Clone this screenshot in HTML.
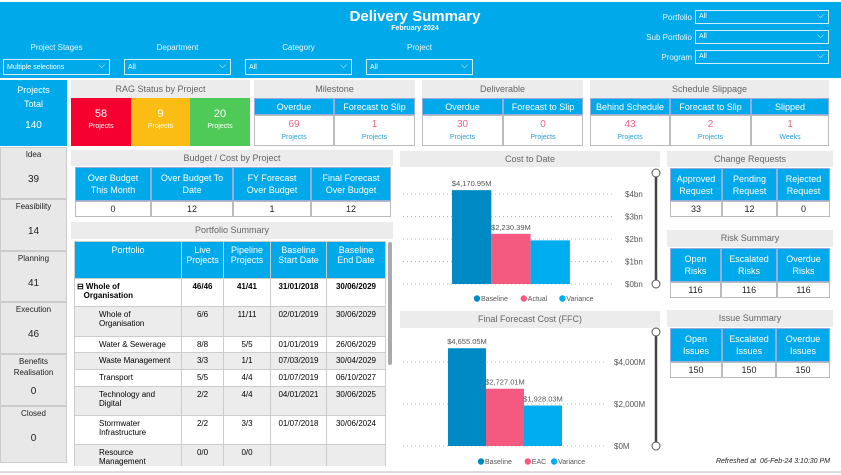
<!DOCTYPE html>
<html><head><meta charset="utf-8">
<style>
*{box-sizing:border-box;margin:0;padding:0}
body{width:841px;height:475px;overflow:hidden;background:#fff;font-family:"Liberation Sans",sans-serif;position:relative}
.a{position:absolute}
.hdr{background:#00a9ea}
.w{color:#fff}
.dd{position:absolute;height:16px;border:1px solid #cfeefb;background:#00a9ea;color:#fff;font-size:7px;line-height:15px;padding-left:3px}
.dd:after{content:"⌵";position:absolute;right:4px;top:-2px;font-size:9px}
.lbl{position:absolute;color:#e8f7fd;font-size:8px;text-align:center}
.gh{position:absolute;background:#ececec;color:#666;font-size:9px;text-align:center}
.bc{position:absolute;background:#00a9ea;color:#fff;font-size:9px;text-align:center;border:1px solid #9ad;display:flex;align-items:center;justify-content:center;line-height:12px}
.wc{position:absolute;background:#fff;color:#222;font-size:10px;text-align:center;border:1px solid #bbb}
.pk{color:#f06488;font-size:10px}
.sub{color:#2a9fd6;font-size:7px}
.st{position:absolute;left:0;width:67px;background:#e8e8e8;border:1px solid #ccc;text-align:center;font-size:8px;color:#222}
table{border-collapse:collapse}
td{border:1px solid #ccc;font-size:8px;vertical-align:top;padding:3px 2px;text-align:center}
</style></head><body>
<div class="a hdr" style="left:0;top:2px;width:841px;height:76px"></div>
<div class="a w" style="left:300px;top:8px;width:230px;text-align:center;font-size:15px;font-weight:bold">Delivery Summary</div>
<div class="a w" style="left:300px;top:25px;width:230px;text-align:center;font-size:7px;font-weight:bold">February 2024</div>
<div class="lbl" style="left:3px;top:43px;width:107px">Project Stages</div>
<div class="lbl" style="left:124px;top:43px;width:107px">Department</div>
<div class="lbl" style="left:245px;top:43px;width:107px">Category</div>
<div class="lbl" style="left:366px;top:43px;width:107px">Project</div>
<div class="dd" style="left:3px;top:59px;width:107px">Multiple selections</div>
<div class="dd" style="left:124px;top:59px;width:107px">All</div>
<div class="dd" style="left:245px;top:59px;width:107px">All</div>
<div class="dd" style="left:366px;top:59px;width:107px">All</div>
<div class="lbl" style="left:630px;top:13px;width:62px;text-align:right">Portfolio</div>
<div class="lbl" style="left:630px;top:33px;width:62px;text-align:right">Sub Portfolio</div>
<div class="lbl" style="left:630px;top:53px;width:62px;text-align:right">Program</div>
<div class="dd" style="left:695px;top:10px;width:134px;height:14px;line-height:12px">All</div>
<div class="dd" style="left:695px;top:30px;width:134px;height:14px;line-height:12px">All</div>
<div class="dd" style="left:695px;top:50px;width:134px;height:14px;line-height:12px">All</div>

<!-- left stages -->
<div class="a w" style="left:0;top:80px;width:67px;height:66px;background:#00a9ea;text-align:center;font-size:9px;line-height:14px;padding-top:3px">Projects<br>Total<br><div style="margin-top:8px;font-size:10px">140</div></div>
<div class="st" style="top:147px;height:52px"><div style="margin-top:2px">Idea</div><div style="margin-top:15px;font-size:10px">39</div></div>
<div class="st" style="top:199px;height:52px"><div style="margin-top:2px">Feasibility</div><div style="margin-top:15px;font-size:10px">14</div></div>
<div class="st" style="top:251px;height:51px"><div style="margin-top:2px">Planning</div><div style="margin-top:15px;font-size:10px">41</div></div>
<div class="st" style="top:302px;height:52px"><div style="margin-top:2px">Execution</div><div style="margin-top:15px;font-size:10px">46</div></div>
<div class="st" style="top:354px;height:52px"><div style="margin-top:1px;line-height:11px">Benefits<br>Realisation</div><div style="margin-top:8px;font-size:10px">0</div></div>
<div class="st" style="top:406px;height:57px"><div style="margin-top:2px">Closed</div><div style="margin-top:15px;font-size:10px">0</div></div>

<!-- RAG -->
<div class="gh" style="left:71px;top:80px;width:179px;height:18px;line-height:18px">RAG Status by Project</div>
<div class="a w" style="left:71px;top:98px;width:60px;height:48px;background:#f5002f;text-align:center;font-size:11px;padding-top:10px">58<div style="font-size:7px;margin-top:3px">Projects</div></div>
<div class="a w" style="left:131px;top:98px;width:59px;height:48px;background:#fbbd13;text-align:center;font-size:11px;padding-top:10px">9<div style="font-size:7px;margin-top:3px">Projects</div></div>
<div class="a w" style="left:190px;top:98px;width:60px;height:48px;background:#4fc957;text-align:center;font-size:11px;padding-top:10px">20<div style="font-size:7px;margin-top:3px">Projects</div></div>

<!-- Milestone / Deliverable / Schedule -->
<div class="gh" style="left:254px;top:80px;width:161px;height:18px;line-height:18px">Milestone</div>
<div class="bc" style="left:254px;top:98px;width:80px;height:17px">Overdue</div>
<div class="bc" style="left:334px;top:98px;width:81px;height:17px">Forecast to Slip</div>
<div class="wc" style="left:254px;top:115px;width:80px;height:31px"><div class="pk" style="margin-top:3px">69</div><div class="sub" style="margin-top:4px">Projects</div></div>
<div class="wc" style="left:334px;top:115px;width:81px;height:31px"><div class="pk" style="margin-top:3px">1</div><div class="sub" style="margin-top:4px">Projects</div></div>

<div class="gh" style="left:422px;top:80px;width:161px;height:18px;line-height:18px">Deliverable</div>
<div class="bc" style="left:422px;top:98px;width:81px;height:17px">Overdue</div>
<div class="bc" style="left:503px;top:98px;width:80px;height:17px">Forecast to Slip</div>
<div class="wc" style="left:422px;top:115px;width:81px;height:31px"><div class="pk" style="margin-top:3px">30</div><div class="sub" style="margin-top:4px">Projects</div></div>
<div class="wc" style="left:503px;top:115px;width:80px;height:31px"><div class="pk" style="margin-top:3px">0</div><div class="sub" style="margin-top:4px">Projects</div></div>

<div class="gh" style="left:590px;top:80px;width:239px;height:18px;line-height:18px">Schedule Slippage</div>
<div class="bc" style="left:590px;top:98px;width:80px;height:17px">Behind Schedule</div>
<div class="bc" style="left:670px;top:98px;width:81px;height:17px">Forecast to Slip</div>
<div class="bc" style="left:751px;top:98px;width:78px;height:17px">Slipped</div>
<div class="wc" style="left:590px;top:115px;width:80px;height:31px"><div class="pk" style="margin-top:3px">43</div><div class="sub" style="margin-top:4px">Projects</div></div>
<div class="wc" style="left:670px;top:115px;width:81px;height:31px"><div class="pk" style="margin-top:3px">2</div><div class="sub" style="margin-top:4px">Projects</div></div>
<div class="wc" style="left:751px;top:115px;width:78px;height:31px"><div class="pk" style="margin-top:3px">1</div><div class="sub" style="margin-top:4px">Weeks</div></div>

<!-- Budget -->
<div class="gh" style="left:71px;top:150px;width:322px;height:16px;line-height:16px">Budget / Cost by Project</div>
<div class="bc" style="left:75px;top:167px;width:76px;height:34px">Over Budget<br>This Month</div>
<div class="bc" style="left:151px;top:167px;width:82px;height:34px">Over Budget To<br>Date</div>
<div class="bc" style="left:233px;top:167px;width:78px;height:34px">FY Forecast<br>Over Budget</div>
<div class="bc" style="left:311px;top:167px;width:80px;height:34px">Final Forecast<br>Over Budget</div>
<div class="wc" style="left:75px;top:201px;width:76px;height:16px;font-size:9px;line-height:14px">0</div>
<div class="wc" style="left:151px;top:201px;width:82px;height:16px;font-size:9px;line-height:14px">12</div>
<div class="wc" style="left:233px;top:201px;width:78px;height:16px;font-size:9px;line-height:14px">1</div>
<div class="wc" style="left:311px;top:201px;width:80px;height:16px;font-size:9px;line-height:14px">12</div>

<!-- Portfolio summary -->
<div class="gh" style="left:71px;top:222px;width:322px;height:17px;line-height:17px">Portfolio Summary</div>
<div class="a" style="left:74px;top:241px;width:312px;height:225px;overflow:hidden">
<table style="width:312px">
<tr style="background:#00a9ea;color:#fff;height:37px"><td style="width:107px;color:#fff;font-size:9px">Portfolio</td><td style="width:42px;color:#fff;font-size:9px">Live Projects</td><td style="width:47px;color:#fff;font-size:9px">Pipeline Projects</td><td style="width:56px;color:#fff;font-size:9px">Baseline Start Date</td><td style="color:#fff;font-size:9px">Baseline<br>End Date</td></tr>
<tr style="height:28px;font-weight:bold"><td style="text-align:left">⊟ Whole of<br>&nbsp;&nbsp;&nbsp;Organisation</td><td>46/46</td><td>41/41</td><td>31/01/2018</td><td>30/06/2029</td></tr>
<tr style="height:30px;background:#ececec"><td style="text-align:left;padding-left:24px">Whole of<br>Organisation</td><td>6/6</td><td>11/11</td><td>02/01/2019</td><td>30/06/2029</td></tr>
<tr style="height:16px"><td style="text-align:left;padding-left:24px">Water &amp; Sewerage</td><td>8/8</td><td>5/5</td><td>01/01/2019</td><td>26/06/2029</td></tr>
<tr style="height:17px;background:#ececec"><td style="text-align:left;padding-left:24px">Waste Management</td><td>3/3</td><td>1/1</td><td>07/03/2019</td><td>30/04/2029</td></tr>
<tr style="height:17px"><td style="text-align:left;padding-left:24px">Transport</td><td>5/5</td><td>4/4</td><td>01/07/2019</td><td>06/10/2027</td></tr>
<tr style="height:29px;background:#ececec"><td style="text-align:left;padding-left:24px">Technology and<br>Digital</td><td>2/2</td><td>4/4</td><td>04/01/2021</td><td>30/06/2025</td></tr>
<tr style="height:29px"><td style="text-align:left;padding-left:24px">Stormwater<br>Infrastructure</td><td>2/2</td><td>3/3</td><td>01/07/2018</td><td>30/06/2024</td></tr>
<tr style="height:29px;background:#ececec"><td style="text-align:left;padding-left:24px">Resource<br>Management</td><td>0/0</td><td>0/0</td><td></td><td></td></tr>
</table></div>
<div class="a" style="left:388px;top:242px;width:4px;height:123px;background:#aaa;border-radius:2px"></div>

<!-- Charts -->
<div class="gh" style="left:400px;top:151px;width:260px;height:16px;line-height:16px">Cost to Date</div>
<div class="gh" style="left:400px;top:311px;width:260px;height:17px;line-height:17px">Final Forecast Cost (FFC)</div>
<svg class="a" style="left:0;top:0" width="841" height="475" id="charts"></svg>

<!-- Right panels -->
<div class="gh" style="left:667px;top:151px;width:166px;height:16px;line-height:16px">Change Requests</div>
<div class="bc" style="left:670px;top:168px;width:52px;height:33px">Approved<br>Request</div>
<div class="bc" style="left:722px;top:168px;width:55px;height:33px">Pending<br>Request</div>
<div class="bc" style="left:777px;top:168px;width:53px;height:33px">Rejected<br>Request</div>
<div class="wc" style="left:670px;top:201px;width:52px;height:16px;font-size:9px;line-height:14px">33</div>
<div class="wc" style="left:722px;top:201px;width:55px;height:16px;font-size:9px;line-height:14px">12</div>
<div class="wc" style="left:777px;top:201px;width:53px;height:16px;font-size:9px;line-height:14px">0</div>

<div class="gh" style="left:667px;top:230px;width:166px;height:17px;line-height:17px">Risk Summary</div>
<div class="bc" style="left:670px;top:248px;width:51px;height:34px">Open<br>Risks</div>
<div class="bc" style="left:721px;top:248px;width:56px;height:34px">Escalated<br>Risks</div>
<div class="bc" style="left:777px;top:248px;width:53px;height:34px">Overdue<br>Risks</div>
<div class="wc" style="left:670px;top:282px;width:51px;height:16px;font-size:9px;line-height:14px">116</div>
<div class="wc" style="left:721px;top:282px;width:56px;height:16px;font-size:9px;line-height:14px">116</div>
<div class="wc" style="left:777px;top:282px;width:53px;height:16px;font-size:9px;line-height:14px">116</div>

<div class="gh" style="left:667px;top:310px;width:166px;height:17px;line-height:17px">Issue Summary</div>
<div class="bc" style="left:670px;top:328px;width:52px;height:34px">Open<br>Issues</div>
<div class="bc" style="left:722px;top:328px;width:54px;height:34px">Escalated<br>Issues</div>
<div class="bc" style="left:776px;top:328px;width:54px;height:34px">Overdue<br>Issues</div>
<div class="wc" style="left:670px;top:362px;width:52px;height:16px;font-size:9px;line-height:14px">150</div>
<div class="wc" style="left:722px;top:362px;width:54px;height:16px;font-size:9px;line-height:14px">150</div>
<div class="wc" style="left:776px;top:362px;width:54px;height:16px;font-size:9px;line-height:14px">150</div>

<div class="a" style="left:690px;top:458px;width:140px;font-size:7px;font-style:italic;color:#222;text-align:right">Refreshed at&nbsp; 06-Feb-24 3:10:30 PM</div>
<div class="a" style="left:0;top:471px;width:841px;height:2px;background:#ddd"></div>

<script>
const ctdCategories=["Baseline","Actual","Variance"];
const ctdValues=[4170.95,2230.39,1940];
const ctdLabels=["$4,170.95M","$2,230.39M",""];
const ctdTicks=[0,1000,2000,3000,4000];
const ctdTickLabels=["$0bn","$1bn","$2bn","$3bn","$4bn"];
const ffcCategories=["Baseline","EAC","Variance"];
const ffcValues=[4655.05,2727.01,1928.03];
const ffcLabels=["$4,655.05M","$2,727.01M","$1,928.03M"];
const ffcTicks=[0,2000,4000];
const ffcTickLabels=["$0M","$2,000M","$4,000M"];
const colors=["#008ac3","#f45a80","#00aeef"];
const NS="http://www.w3.org/2000/svg";
const svg=document.getElementById("charts");
function mk(t,a,txt){const e=document.createElementNS(NS,t);for(const k in a)e.setAttribute(k,a[k]);if(txt!==undefined)e.textContent=txt;svg.appendChild(e);return e;}
function chart(cfg){
  const y=v=>cfg.y0-(v/cfg.max)*(cfg.y0-cfg.yTop);
  cfg.ticks.forEach((t,i)=>{
    const g=mk("line",{x1:403,x2:cfg.gx2,y1:y(t),y2:y(t),stroke:"#bbb","stroke-dasharray":"1,3"});
    
    
    const l=mk("text",{x:cfg.lx,y:y(t)+3,"font-size":"8","fill":"#555"},cfg.tickLabels[i]);
    
    
  });
  cfg.values.forEach((v,i)=>{
    const x=cfg.x0+i*cfg.bw;
    const r=mk("rect",{x:x,y:y(v),width:cfg.bw,height:cfg.y0-y(v),fill:colors[i]});
    
    
    if(cfg.labels[i]){const t=mk("text",{x:x+cfg.bw/2,y:y(v)-4,"font-size":"7.5","fill":"#555","text-anchor":"middle"},cfg.labels[i]);
    
    }
  });
  let lx=cfg.legX;
  cfg.cats.forEach((c,i)=>{
    const d=mk("circle",{cx:lx+3,cy:cfg.legY-2.5,r:3.2,fill:colors[i]});
    
    
    const t=mk("text",{x:lx+7,y:cfg.legY,"font-size":"7","fill":"#555"},c);
    
    
    lx+=c.length*4.1+14;
  });
  const s=mk("line",{x1:656,x2:656,y1:cfg.sTop,y2:cfg.y0,stroke:"#444","stroke-width":2.5});
  
  
  [cfg.sTop,cfg.y0].forEach(cy=>{const c=mk("circle",{cx:656,cy:cy,r:4,fill:"#fff",stroke:"#555","stroke-width":1});
  
  });
}
chart({cats:ctdCategories,values:ctdValues,labels:ctdLabels,ticks:ctdTicks,tickLabels:ctdTickLabels,max:4000,y0:284,yTop:194,x0:452,bw:39.3,lx:625,gx2:615,legX:474,legY:301,sTop:173});
chart({cats:ffcCategories,values:ffcValues,labels:ffcLabels,ticks:ffcTicks,tickLabels:ffcTickLabels,max:4000,y0:446,yTop:362,x0:448,bw:38,lx:614,gx2:605,legX:478,legY:464,sTop:332});
</script>
</body></html>
